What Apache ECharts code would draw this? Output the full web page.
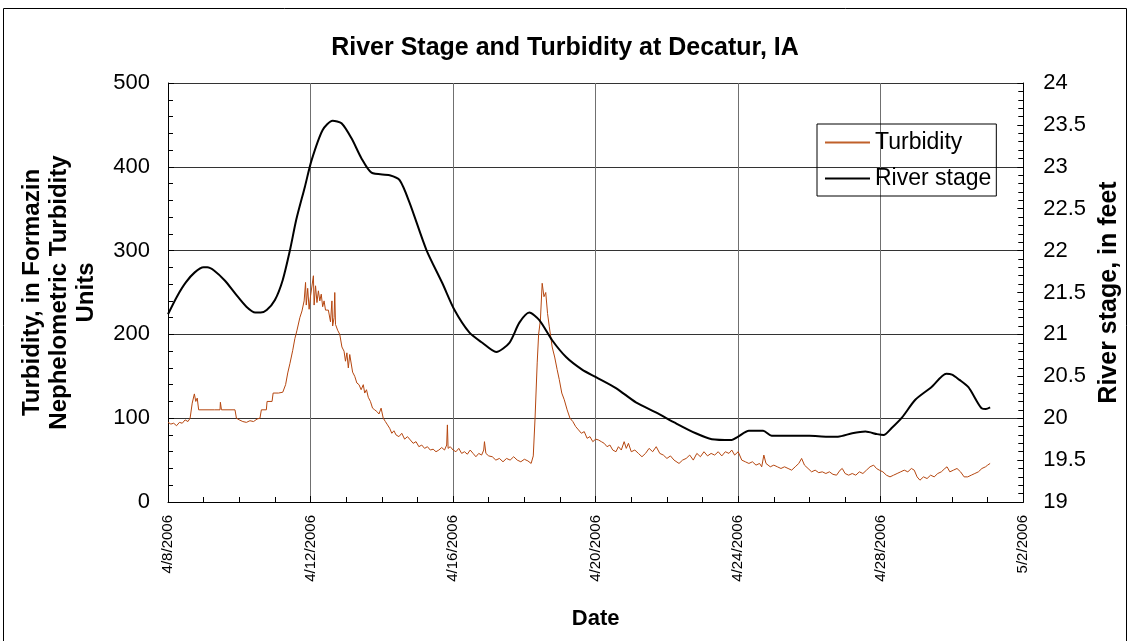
<!DOCTYPE html>
<html>
<head>
<meta charset="utf-8">
<script src="https://cdn.jsdelivr.net/npm/echarts@6/dist/echarts.min.js"></script>
<style>
  html, body { margin: 0; padding: 0; background: #fff; }
  #chart { width: 1130px; height: 641px; }
</style>
</head>
<body>
<div id="chart"></div>
<script>
// days after 4/8/2006 and river stage in feet
var stageDays = [0, 0.25, 0.5, 0.75, 1.0, 1.1, 1.3, 1.6, 1.9, 2.2, 2.45, 2.6, 2.77, 3.0, 3.22, 3.42, 3.6, 3.84, 4.03, 4.34, 4.62, 4.87, 5.15, 5.43, 5.71, 6.22, 6.5, 6.78, 7.25, 7.7, 8.04, 8.46, 8.82, 9.21, 9.58, 9.86, 10.14, 10.42, 10.78, 11.17, 11.62, 12.01, 12.57, 13.13, 13.69, 14.25, 14.81, 15.26, 15.82, 16.0, 16.3, 16.7, 16.94, 17.5, 18.0, 18.5, 18.8, 19.2, 19.57, 19.9, 20.08, 20.3, 20.6, 20.97, 21.42, 21.84, 22.0, 22.2, 22.46, 22.7, 22.83, 22.95, 23.07];
var stageValues = [21.24, 21.45, 21.62, 21.74, 21.80, 21.80, 21.76, 21.64, 21.48, 21.33, 21.26, 21.26, 21.29, 21.41, 21.65, 22.0, 22.37, 22.76, 23.08, 23.44, 23.55, 23.52, 23.34, 23.1, 22.93, 22.9, 22.84, 22.57, 22.01, 21.61, 21.29, 21.02, 20.9, 20.79, 20.9, 21.14, 21.26, 21.17, 20.93, 20.73, 20.58, 20.49, 20.36, 20.19, 20.07, 19.94, 19.82, 19.75, 19.74, 19.78, 19.85, 19.85, 19.79, 19.79, 19.79, 19.78, 19.78, 19.82, 19.84, 19.81, 19.80, 19.88, 20.01, 20.22, 20.37, 20.53, 20.52, 20.46, 20.37, 20.2, 20.12, 20.11, 20.13];

// days after 4/8/2006 and turbidity in FNU
var turbDays = [0.00, 0.08, 0.16, 0.24, 0.32, 0.40, 0.48, 0.56, 0.62, 0.68, 0.74, 0.78, 0.82, 0.86, 0.90, 1.30, 1.46, 1.47, 1.50, 1.88, 1.92, 2.0, 2.1, 2.2, 2.3, 2.4, 2.5, 2.58, 2.62, 2.76, 2.78, 2.92, 2.95, 3.1, 3.22, 3.3, 3.36, 3.42, 3.5, 3.56, 3.62, 3.7, 3.76, 3.82, 3.86, 3.88, 3.92, 3.96, 4.0, 4.04, 4.08, 4.10, 4.14, 4.18, 4.22, 4.26, 4.30, 4.34, 4.38, 4.42, 4.5, 4.56, 4.60, 4.62, 4.66, 4.68, 4.70, 4.76, 4.82, 4.88, 4.94, 4.98, 5.02, 5.06, 5.10, 5.15, 5.18, 5.24, 5.30, 5.36, 5.42, 5.48, 5.52, 5.57, 5.62, 5.68, 5.74, 5.80, 5.86, 5.92, 5.98, 6.04, 6.10, 6.16, 6.22, 6.28, 6.34, 6.40, 6.48, 6.56, 6.64, 6.72, 6.80, 6.88, 6.96, 7.04, 7.12, 7.20, 7.28, 7.36, 7.44, 7.52, 7.60, 7.68, 7.76, 7.82, 7.84, 7.86, 7.92, 8.00, 8.08, 8.16, 8.24, 8.32, 8.40, 8.48, 8.56, 8.64, 8.72, 8.80, 8.86, 8.88, 8.92, 9.00, 9.10, 9.20, 9.30, 9.40, 9.50, 9.60, 9.70, 9.80, 9.90, 10.0, 10.1, 10.19, 10.25, 10.30, 10.36, 10.40, 10.45, 10.50, 10.55, 10.60, 10.65, 10.70, 10.78, 10.85, 10.92, 10.98, 11.05, 11.12, 11.2, 11.28, 11.36, 11.44, 11.52, 11.60, 11.68, 11.76, 11.84, 11.92, 12.0, 12.08, 12.16, 12.24, 12.32, 12.40, 12.48, 12.57, 12.64, 12.72, 12.80, 12.86, 12.92, 13.00, 13.10, 13.20, 13.30, 13.40, 13.50, 13.60, 13.70, 13.80, 13.90, 14.00, 14.10, 14.20, 14.34, 14.44, 14.54, 14.64, 14.74, 14.84, 14.94, 15.04, 15.14, 15.24, 15.34, 15.44, 15.54, 15.64, 15.74, 15.82, 15.90, 16.00, 16.10, 16.20, 16.30, 16.40, 16.50, 16.60, 16.66, 16.72, 16.78, 16.90, 17.00, 17.10, 17.20, 17.30, 17.40, 17.50, 17.60, 17.70, 17.78, 17.86, 17.96, 18.06, 18.16, 18.26, 18.36, 18.46, 18.56, 18.66, 18.76, 18.86, 18.92, 19.00, 19.10, 19.20, 19.30, 19.40, 19.50, 19.60, 19.70, 19.80, 19.88, 19.96, 20.06, 20.16, 20.26, 20.36, 20.46, 20.56, 20.66, 20.76, 20.86, 20.94, 21.02, 21.10, 21.20, 21.30, 21.40, 21.50, 21.60, 21.70, 21.80, 21.86, 21.94, 22.04, 22.14, 22.24, 22.34, 22.44, 22.54, 22.64, 22.74, 22.84, 22.94, 23.00, 23.07];
var turbValues = [95, 93, 94, 91, 95, 94, 98, 96, 100, 118, 129, 120, 124, 110, 110, 110, 110, 119, 110, 110, 100, 98, 96, 95, 97, 96, 99, 100, 110, 110, 120, 120, 130, 130, 131, 140, 154, 165, 181, 195, 205, 220, 228, 240, 262, 235, 255, 230, 246, 245, 270, 235, 258, 238, 252, 240, 248, 233, 240, 229, 229, 215, 240, 210, 220, 250, 212, 205, 200, 185, 180, 168, 178, 160, 176, 178, 155, 150, 142, 140, 134, 140, 130, 134, 125, 120, 112, 110, 108, 105, 112, 100, 96, 92, 88, 82, 85, 80, 78, 82, 75, 78, 74, 70, 72, 66, 68, 64, 66, 62, 63, 60, 62, 65, 62, 68, 92, 64, 66, 62, 60, 64, 58, 60, 57, 62, 58, 54, 58, 56, 62, 72, 58, 55, 54, 50, 52, 48, 52, 50, 54, 50, 48, 51, 49, 46, 55, 100, 166, 200, 217, 261, 245, 250, 225, 209, 185, 173, 158, 146, 130, 122, 110, 100, 96, 90, 86, 82, 84, 76, 78, 72, 75, 74, 72, 70, 66, 68, 62, 60, 66, 62, 72, 64, 70, 60, 62, 58, 54, 58, 64, 60, 66, 58, 56, 52, 55, 50, 46, 50, 52, 56, 50, 58, 54, 60, 55, 58, 56, 60, 55, 60, 58, 62, 56, 60, 50, 48, 46, 48, 44, 46, 42, 56, 46, 42, 44, 42, 40, 42, 40, 38, 42, 46, 52, 44, 40, 36, 38, 35, 36, 34, 36, 33, 32, 38, 40, 34, 32, 34, 32, 36, 34, 38, 42, 44, 40, 38, 36, 32, 30, 32, 34, 36, 38, 36, 40, 38, 30, 26, 30, 28, 32, 30, 34, 36, 40, 42, 36, 38, 40, 36, 30, 30, 32, 34, 36, 40, 42, 44, 46];

var seriesNames = ['Turbidity', 'River stage'];

function zip(xs, ys) {
  var out = [];
  for (var i = 0; i < xs.length; i++) out.push([xs[i], ys[i]]);
  return out;
}

function dayLabel(v) {
  var d = new Date(2006, 3, 8 + v);
  return (d.getMonth() + 1) + '/' + d.getDate() + '/' + d.getFullYear();
}

var font = 'Liberation Sans, Arial, sans-serif';
var myChart = echarts.init(document.getElementById('chart'));
var option = {
  animation: false,
  textStyle: { fontFamily: font },
  title: {
    text: 'River Stage and Turbidity at Decatur, IA',
    left: 'center',
    top: 31,
    textStyle: { fontFamily: font, fontSize: 25, fontWeight: 'bold', color: '#000' }
  },
  graphic: [{
    type: 'rect',
    shape: { x: 3.5, y: 8.5, width: 1123, height: 650 },
    style: { fill: 'none', stroke: '#000', lineWidth: 1 },
    silent: true
  }],
  grid: { left: 168, right: 105, top: 83, bottom: 139 },
  legend: {
    data: [
      { name: seriesNames[0], icon: 'rect', itemStyle: { color: '#c0602a' } },
      { name: seriesNames[1], icon: 'rect', itemStyle: { color: '#000' } }
    ],
    orient: 'vertical',
    left: 817,
    top: 124,
    borderColor: '#000',
    borderWidth: 1,
    padding: [7, 5, 6, 8],
    itemWidth: 45,
    itemHeight: 2,
    itemGap: 13,
    textStyle: { fontFamily: font, fontSize: 23, color: '#000' }
  },
  xAxis: {
    type: 'value',
    min: 0,
    max: 24,
    interval: 4,
    name: 'Date',
    nameLocation: 'middle',
    nameGap: 106,
    nameTextStyle: { fontFamily: font, fontSize: 22, fontWeight: 'bold', color: '#000' },
    axisLine: { lineStyle: { color: '#000', width: 1 } },
    axisTick: { inside: true, length: 6, lineStyle: { color: '#000' } },
    minorTick: { show: true, splitNumber: 4, length: 5, lineStyle: { color: '#000' } },
    axisLabel: {
      rotate: 90,
      margin: 13,
      fontSize: 15,
      color: '#000',
      fontFamily: font,
      formatter: dayLabel
    },
    splitLine: { show: true, lineStyle: { color: '#707070', width: 1 } }
  },
  yAxis: [{
    type: 'value',
    min: 0,
    max: 500,
    interval: 100,
    name: 'Turbidity, in Formazin\nNephelometric Turbidity\nUnits',
    nameLocation: 'middle',
    nameGap: 68,
    nameTextStyle: { fontFamily: font, fontSize: 24, fontWeight: 'bold', color: '#000', lineHeight: 27 },
    axisLine: { show: true, lineStyle: { color: '#000', width: 1 } },
    axisTick: { show: true, inside: true, length: 6, lineStyle: { color: '#000' } },
    minorTick: { show: true, splitNumber: 5, length: 5, lineStyle: { color: '#000' } },
    axisLabel: { fontSize: 22, color: '#000', fontFamily: font, margin: 18 },
    splitLine: { show: true, lineStyle: { color: '#333', width: 1 } }
  }, {
    type: 'value',
    min: 19,
    max: 24,
    interval: 0.5,
    position: 'right',
    name: 'River stage, in feet',
    nameLocation: 'middle',
    nameRotate: 90,
    nameGap: 72,
    nameTextStyle: { fontFamily: font, fontSize: 25, fontWeight: 'bold', color: '#000' },
    axisLine: { show: true, lineStyle: { color: '#000', width: 1 } },
    axisTick: { show: true, inside: true, length: 6, lineStyle: { color: '#000' } },
    minorTick: { show: true, splitNumber: 5, length: 5, lineStyle: { color: '#000' } },
    axisLabel: { fontSize: 22, color: '#000', fontFamily: font, margin: 20 },
    splitLine: { show: false }
  }],
  series: [{
    name: seriesNames[0],
    type: 'line',
    yAxisIndex: 0,
    symbol: 'none',
    color: '#b5460f',
    lineStyle: { width: 1, color: '#b5460f' },
    data: zip(turbDays, turbValues)
  }, {
    name: seriesNames[1],
    type: 'line',
    yAxisIndex: 1,
    symbol: 'none',
    smooth: 0.25,
    color: '#000',
    lineStyle: { width: 2, color: '#000' },
    data: zip(stageDays, stageValues)
  }]
};
myChart.setOption(option);
</script>
</body>
</html>
